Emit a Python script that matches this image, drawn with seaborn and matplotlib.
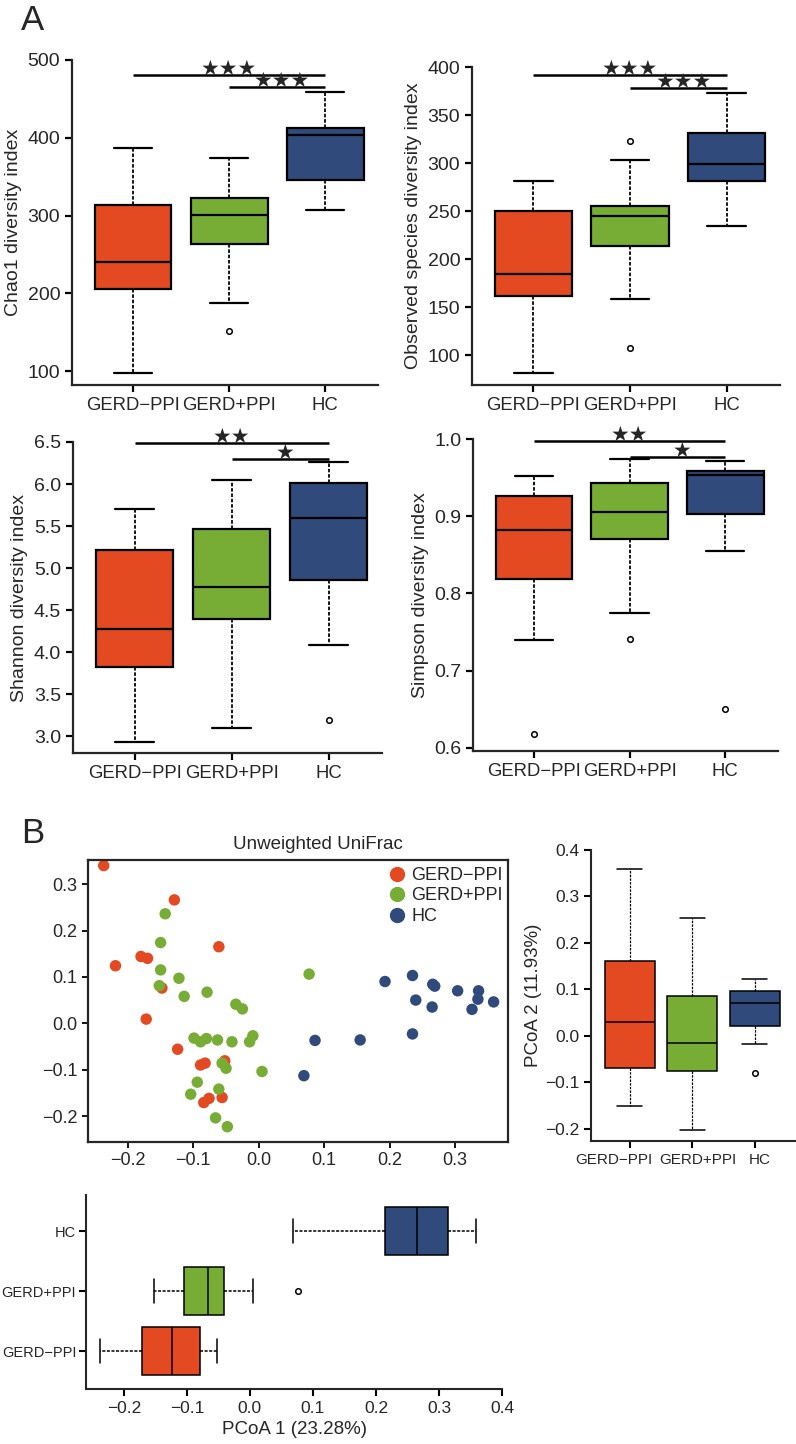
import pandas as pd
import seaborn as sns
import matplotlib.pyplot as plt
import matplotlib.transforms as mtrans
from matplotlib.lines import Line2D

sns.set_style('ticks')
plt.rcParams['font.family'] = ['Liberation Sans', 'DejaVu Sans']
plt.rcParams['axes.unicode_minus'] = True

groups = ['GERD−PPI', 'GERD+PPI', 'HC']
colors = ['#E34A21', '#77AD35', '#2F4A7B']

# (whisker low, Q1, median, Q3, whisker high) per group
chao1_stats = [(97, 206, 240, 313, 387), (188, 263, 301, 323, 374), (307, 346, 403, 413, 459)]
chao1_fliers = [[], [152], []]
chao1_sig = [(0, 2, 481, '★★★'), (1, 2, 465, '★★★')]

obs_stats = [(81, 162, 185, 250, 281), (158, 214, 245, 255, 303), (235, 281, 299, 331, 373)]
obs_fliers = [[], [323, 107], []]
obs_sig = [(0, 2, 392, '★★★'), (1, 2, 378, '★★★')]

shannon_stats = [(2.93, 3.82, 4.27, 5.22, 5.70), (3.10, 4.39, 4.77, 5.46, 6.05), (4.08, 4.86, 5.60, 6.01, 6.26)]
shannon_fliers = [[], [], [3.19]]
shannon_sig = [(0, 2, 6.49, '★★'), (1, 2, 6.30, '★')]

simpson_stats = [(0.740, 0.819, 0.882, 0.926, 0.952), (0.775, 0.871, 0.906, 0.943, 0.974),
                 (0.855, 0.903, 0.953, 0.959, 0.972)]
simpson_fliers = [[0.618], [0.741], [0.650]]
simpson_sig = [(0, 2, 0.997, '★★'), (1, 2, 0.977, '★')]

pc2_stats = [(-0.150, -0.069, 0.030, 0.161, 0.359), (-0.203, -0.076, -0.016, 0.086, 0.254),
             (-0.017, 0.022, 0.071, 0.096, 0.122)]
pc2_fliers = [[], [], [-0.080]]

# PCoA coordinates of the samples
nppi_pc1 = [-0.237, -0.129, -0.061, -0.180, -0.170, -0.219, -0.148, -0.172, -0.124, -0.089,
            -0.082, -0.052, -0.084, -0.076, -0.056]
nppi_pc2 = [0.340, 0.266, 0.165, 0.144, 0.140, 0.124, 0.076, 0.009, -0.056, -0.090,
            -0.086, -0.081, -0.171, -0.162, -0.160]
ppi_pc1 = [-0.143, -0.150, -0.150, -0.122, -0.152, -0.114, -0.079, -0.035, -0.025, 0.077,
           -0.099, -0.089, -0.080, -0.063, -0.041, -0.014, -0.009, -0.056, -0.050, 0.005,
           -0.094, -0.104, -0.061, -0.066, -0.048]
ppi_pc2 = [0.236, 0.174, 0.115, 0.097, 0.081, 0.058, 0.067, 0.041, 0.031, 0.106,
           -0.032, -0.040, -0.033, -0.036, -0.040, -0.040, -0.027, -0.086, -0.097, -0.104,
           -0.127, -0.153, -0.142, -0.204, -0.223]
hc_pc1 = [0.193, 0.235, 0.266, 0.269, 0.304, 0.336, 0.335, 0.359, 0.240, 0.265,
          0.326, 0.235, 0.086, 0.155, 0.069]
hc_pc2 = [0.090, 0.103, 0.084, 0.080, 0.070, 0.070, 0.052, 0.046, 0.050, 0.035,
          0.030, -0.023, -0.037, -0.036, -0.113]

pcoa = pd.DataFrame({
    'pc1': nppi_pc1 + ppi_pc1 + hc_pc1,
    'pc2': nppi_pc2 + ppi_pc2 + hc_pc2,
    'group': [groups[0]] * len(nppi_pc1) + [groups[1]] * len(ppi_pc1) + [groups[2]] * len(hc_pc1),
})
pal = dict(zip(groups, colors))

W, H = 796, 1444
fig = plt.figure(figsize=(W / 100, H / 100), dpi=100)

flier_kw = dict(marker='o', markersize=4, markerfacecolor='white',
                markeredgecolor='black', markeredgewidth=1.1)


def draw_boxes(ax, stats, fliers, lw=1.6):
    bx = [dict(whislo=s[0], q1=s[1], med=s[2], q3=s[3], whishi=s[4], fliers=f)
          for s, f in zip(stats, fliers)]
    art = ax.bxp(bx, positions=range(len(bx)), widths=0.8, capwidths=0.4, patch_artist=True,
                 boxprops=dict(edgecolor='black', linewidth=lw),
                 medianprops=dict(color='black', linewidth=lw),
                 whiskerprops=dict(color='black', linestyle=(0, (2, 1)), linewidth=lw * 0.8),
                 capprops=dict(color='black', linewidth=lw),
                 flierprops=flier_kw)
    for patch, c in zip(art['boxes'], colors):
        patch.set_facecolor(c)


def style_axes(ax, size, lw=1.6):
    sns.despine(ax=ax)
    for s in ['left', 'bottom']:
        ax.spines[s].set_linewidth(lw)
    ax.tick_params(labelsize=size, width=lw, length=5, color='black')


def alpha_panel(rect, stats, fliers, sig, ylim, yticks, ylabel):
    ax = fig.add_axes([rect[0] / W, 1 - rect[1] / H, rect[2] / W, rect[3] / H])
    draw_boxes(ax, stats, fliers)
    ax.set_xlim(-0.635, 2.55)
    ax.set_ylim(*ylim)
    ax.set_yticks(yticks)
    ax.set_xticks(range(3), groups)
    ax.set_ylabel(ylabel, fontsize=14)
    style_axes(ax, 14)
    ax.tick_params(axis='x', labelsize=13.3)
    for x0, x1, y, stars in sig:
        ax.plot([x0, x1], [y, y], color='black', lw=1.8, clip_on=False, solid_capstyle='butt')
        ax.text(1.0 if x0 == 0 else 1.55, y, stars, ha='center', va='baseline', fontsize=15,
                family=['DejaVu Sans'], clip_on=False)
    return ax


alpha_panel((72, 385, 306, 325), chao1_stats, chao1_fliers, chao1_sig, (82, 500),
            [100, 200, 300, 400, 500], 'Chao1 diversity index')
alpha_panel((472, 385, 308, 318), obs_stats, obs_fliers, obs_sig, (69, 400),
            [100, 150, 200, 250, 300, 350, 400], 'Observed species diversity index')
alpha_panel((73, 753, 309, 311), shannon_stats, shannon_fliers, shannon_sig, (2.80, 6.5),
            [3.0, 3.5, 4.0, 4.5, 5.0, 5.5, 6.0, 6.5], 'Shannon diversity index')
alpha_panel((473, 751, 305, 312), simpson_stats, simpson_fliers, simpson_sig, (0.596, 1.0),
            [0.6, 0.7, 0.8, 0.9, 1.0], 'Simpson diversity index')

# PCoA scatter
ax5 = fig.add_axes([88 / W, 1 - 1142 / H, 420 / W, 282 / H])
sns.scatterplot(data=pcoa, x='pc1', y='pc2', hue='group', palette=pal, s=68,
                edgecolor='none', linewidth=0, legend=False, ax=ax5)
ax5.set_xlim(-0.261, 0.381)
ax5.set_ylim(-0.256, 0.352)
ax5.set_xticks([-0.2, -0.1, 0.0, 0.1, 0.2, 0.3])
ax5.set_yticks([-0.2, -0.1, 0.0, 0.1, 0.2, 0.3])
ax5.set_xlabel('')
ax5.set_ylabel('')
for s in ax5.spines.values():
    s.set_linewidth(1.6)
ax5.tick_params(labelsize=13, width=1.3, length=4, color='black')
handles = [Line2D([], [], marker='o', linestyle='', markersize=10, color=c) for c in colors]
ax5.legend(handles, groups, loc='upper right', bbox_to_anchor=(1.0, 0.995), frameon=False,
           fontsize=13, handletextpad=0.2, labelspacing=0.2, borderaxespad=0.1,
           borderpad=0.2, handlelength=1.2)

# PCoA 2 boxplot
ax6 = fig.add_axes([591 / W, 1 - 1141 / H, 204 / W, 291 / H])
draw_boxes(ax6, pc2_stats, pc2_fliers, lw=1.1)
ax6.set_xlim(-0.62, 2.64)
ax6.set_ylim(-0.226, 0.4)
ax6.set_yticks([-0.2, -0.1, 0.0, 0.1, 0.2, 0.3, 0.4])
ax6.set_xticks(range(3), groups)
ax6.set_ylabel('PCoA 2 (11.93%)', fontsize=13.5, labelpad=2)
style_axes(ax6, 12.5, lw=1.5)
ax6.tick_params(axis='x', labelsize=11)
# labels sit packed side by side as in the original, not centred on ticks
for lab, dx in zip(ax6.get_xticklabels(), [-16, 6, 5]):
    lab.set_transform(lab.get_transform() + mtrans.ScaledTranslation(dx / 100, 0, fig.dpi_scale_trans))

# PCoA 1 boxplot, computed from the sample coordinates
ax7 = fig.add_axes([86 / W, 1 - 1389 / H, 416 / W, 194 / H])
sns.boxplot(data=pcoa, x='pc1', y='group', hue='group', order=groups[::-1], palette=pal,
            saturation=1, width=0.8, linecolor='black', linewidth=1.1, legend=False, ax=ax7,
            whiskerprops=dict(linestyle=(0, (2, 1))), flierprops=flier_kw)
ax7.set_xlim(-0.26, 0.4)
ax7.set_ylim(2.63, -0.6)
ax7.set_xticks([-0.2, -0.1, 0.0, 0.1, 0.2, 0.3, 0.4])
ax7.set_ylabel('')
ax7.set_xlabel('PCoA 1 (23.28%)', fontsize=13.5)
style_axes(ax7, 12.5, lw=1.5)
ax7.tick_params(axis='y', labelsize=10.5, pad=2)

fig.text(318 / W, 1 - 849 / H, 'Unweighted UniFrac', ha='center', va='baseline', fontsize=13.5)
fig.text(21 / W, 1 - 30 / H, 'A', fontsize=25, va='baseline')
fig.text(21 / W, 1 - 843 / H, 'B', fontsize=25, va='baseline')

fig.savefig('out.png', dpi=100)
